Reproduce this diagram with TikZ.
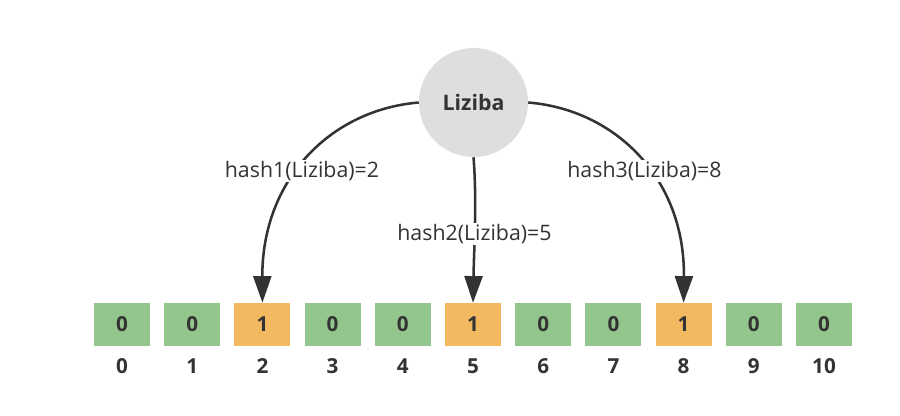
\documentclass[tikz,border=0pt]{standalone}
\usepackage{fontspec}
\setmainfont{Open Sans}
\usetikzlibrary{arrows.meta}
\definecolor{gbox}{HTML}{93C68C}
\definecolor{obox}{HTML}{F3B960}
\definecolor{cgray}{HTML}{DEDEDE}
\definecolor{ink}{HTML}{333333}
\tikzset{
  bitbox/.style={minimum width=42pt, minimum height=32.25pt, inner sep=0pt, text=ink,
    font=\fontsize{15.5}{17}\selectfont\bfseries},
  zerobox/.style={bitbox, fill=gbox},
  onebox/.style={bitbox, fill=obox},
  idxlabel/.style={text=ink, inner sep=0pt, font=\fontsize{15.5}{17}\selectfont\bfseries},
  hashlabel/.style={fill=white, text=ink, inner sep=1pt, font=\fontsize{16}{18}\selectfont},
  hasharrow/.style={draw=ink, line width=1.9pt, -{Triangle[length=20pt, width=13.5pt]}, fill=none},
}
\begin{document}
\begin{tikzpicture}[x=0.75pt, y=-0.75pt]
\useasboundingbox (0,0) rectangle (900,416);
\node[circle, fill=cgray, minimum size=81.75pt, inner sep=0pt, text=ink,
  font=\fontsize{16}{18}\selectfont\bfseries] (L) at (473.5,102.5) {Liziba};
\foreach \i/\v in {0/0,1/0,2/1,3/0,4/0,5/1,6/0,7/0,8/1,9/0,10/0} {
  \ifnum\v=1
    \node[onebox] (b\i) at ({122+70.2*\i},324.5) {\v};
  \else
    \node[zerobox] (b\i) at ({122+70.2*\i},324.5) {\v};
  \fi
  \node[idxlabel] (i\i) at ({122+70.2*\i},366) {\i};
}
\draw[hasharrow] (L.west) .. controls (330,110) and (262,180) .. (b2.north);
\draw[hasharrow] (L.south) .. controls (477,200) and (474,250) .. (b5.north);
\draw[hasharrow] (L.east) .. controls (617,110) and (685,180) .. (b8.north);
\node[hashlabel] (h1) at (302,171) {hash1(Liziba)=2};
\node[hashlabel] (h2) at (474.5,234) {hash2(Liziba)=5};
\node[hashlabel] (h3) at (644.5,171) {hash3(Liziba)=8};
\end{tikzpicture}
\end{document}
